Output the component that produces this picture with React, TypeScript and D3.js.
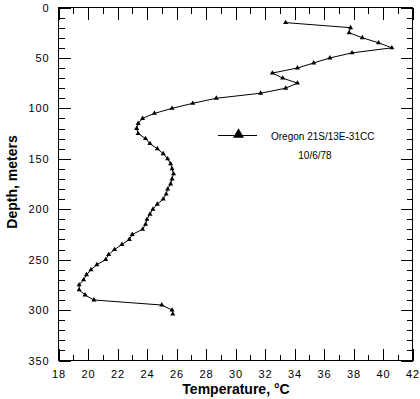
import { useEffect, useRef } from "react";
import * as d3 from "d3";

// depth (m) and temperature (°C) readings, Oregon 21S/13E-31CC, 10/6/78
const depths: number[] = [
  15, 20, 25, 30, 35, 40, 45, 50, 55, 60, 65, 70, 75, 80, 85, 90, 95, 100,
  105, 110, 115, 120, 125, 130, 135, 140, 145, 150, 155, 160, 165, 170, 175,
  180, 185, 190, 195, 200, 205, 210, 215, 220, 225, 230, 235, 240, 245, 250,
  255, 260, 265, 270, 275, 280, 285, 290, 295, 300, 304,
];
const temps: number[] = [
  33.4, 37.8, 37.7, 38.6, 39.7, 40.6, 37.9, 36.4, 35.3, 34.2, 32.5, 33.2,
  34.2, 33.4, 31.7, 28.7, 27.1, 25.7, 24.5, 23.7, 23.4, 23.3, 23.4, 23.9,
  24.2, 24.7, 25.1, 25.4, 25.6, 25.7, 25.8, 25.7, 25.6, 25.4, 25.3, 25.1,
  24.7, 24.4, 24.2, 24.0, 23.9, 23.7, 23.0, 22.8, 22.3, 21.8, 21.4, 21.2,
  20.6, 20.2, 19.9, 19.7, 19.4, 19.4, 19.8, 20.4, 25.0, 25.7, 25.75,
];
const xTicks: number[] = [18, 20, 22, 24, 26, 28, 30, 32, 34, 36, 38, 40, 42];
const yTicks: number[] = [0, 50, 100, 150, 200, 250, 300, 350];
const legendLines: string[] = ["Oregon 21S/13E-31CC", "10/6/78"];

const W = 420;
const H = 399;
const FONT = "'Liberation Sans', Arial, sans-serif";

export default function App() {
  const svgRef = useRef<SVGSVGElement>(null);

  useEffect(() => {
    document.body.style.margin = "0";
    const svgEl = svgRef.current;
    if (!svgEl) return;

    const margin = { top: 7, right: 8, bottom: 39, left: 58 };
    const innerW = W - margin.left - margin.right;
    const innerH = H - margin.top - margin.bottom;

    const svg = d3.select(svgEl);
    svg.selectAll("*").remove();

    const g = svg
      .append("g")
      .attr("transform", `translate(${margin.left + 0.5},${margin.top + 0.5})`);

    const x = d3.scaleLinear().domain([18, 42]).range([0, innerW]);
    const y = d3.scaleLinear().domain([0, 350]).range([0, innerH]);

    const minorX = d3.range(18, 43, 1).filter((v) => v % 2 !== 0);
    const minorY = d3.range(0, 351, 10).filter((v) => v % 50 !== 0);

    const styleAxis = (sel: d3.Selection<SVGGElement, unknown, null, undefined>) => {
      sel.selectAll(".domain").remove();
      sel.selectAll("line").attr("stroke", "#000").attr("shape-rendering", "crispEdges");
      sel
        .selectAll("text")
        .attr("fill", "#000")
        .attr("font-size", "11px")
        .attr("letter-spacing", "0.9px")
        .attr("font-family", FONT);
    };

    // bottom axis
    const bx = g
      .append("g")
      .attr("transform", `translate(0,${innerH})`)
      .call(d3.axisBottom(x).tickValues(xTicks).tickSizeInner(-12).tickSizeOuter(0).tickPadding(10));
    styleAxis(bx);
    const bxm = g
      .append("g")
      .attr("transform", `translate(0,${innerH})`)
      .call(d3.axisBottom(x).tickValues(minorX).tickSize(-6).tickFormat(() => ""));
    styleAxis(bxm);

    // top axis
    const tx = g
      .append("g")
      .call(d3.axisTop(x).tickValues(xTicks).tickSize(-12).tickFormat(() => ""));
    styleAxis(tx);
    const txm = g
      .append("g")
      .call(d3.axisTop(x).tickValues(minorX).tickSize(-6).tickFormat(() => ""));
    styleAxis(txm);

    // left axis
    const ly = g
      .append("g")
      .call(d3.axisLeft(y).tickValues(yTicks).tickSizeInner(-12).tickSizeOuter(0).tickPadding(9));
    styleAxis(ly);
    const lym = g
      .append("g")
      .call(d3.axisLeft(y).tickValues(minorY).tickSize(-6).tickFormat(() => ""));
    styleAxis(lym);

    // right axis
    const ry = g
      .append("g")
      .attr("transform", `translate(${innerW},0)`)
      .call(d3.axisRight(y).tickValues(yTicks).tickSize(-12).tickFormat(() => ""));
    styleAxis(ry);
    const rym = g
      .append("g")
      .attr("transform", `translate(${innerW},0)`)
      .call(d3.axisRight(y).tickValues(minorY).tickSize(-6).tickFormat(() => ""));
    styleAxis(rym);

    // frame
    g.append("rect")
      .attr("x", 0)
      .attr("y", 0)
      .attr("width", innerW)
      .attr("height", innerH)
      .attr("fill", "none")
      .attr("stroke", "#000")
      .attr("shape-rendering", "crispEdges");

    const points = depths.map((d, i) => ({ depth: d, temp: temps[i] }));

    const line = d3
      .line<{ depth: number; temp: number }>()
      .x((d) => x(d.temp))
      .y((d) => y(d.depth));

    g.append("path")
      .datum(points)
      .attr("d", line)
      .attr("fill", "none")
      .attr("stroke", "#000")
      .attr("stroke-width", 1);

    const tri = d3.symbol().type(d3.symbolTriangle);
    g.selectAll(".marker")
      .data(points)
      .enter()
      .append("path")
      .attr("class", "marker")
      .attr("transform", (d) => `translate(${x(d.temp)},${y(d.depth)})`)
      .attr("d", tri.size(11)())
      .attr("fill", "#000");

    // legend
    const lg = svg.append("g");
    lg.append("line")
      .attr("x1", 218)
      .attr("x2", 257)
      .attr("y1", 135.5)
      .attr("y2", 135.5)
      .attr("stroke", "#000");
    lg.append("path")
      .attr("transform", "translate(238.5,134.5)")
      .attr("d", tri.size(52)())
      .attr("fill", "#000");
    lg.append("text")
      .attr("x", 271)
      .attr("y", 139.5)
      .attr("font-size", "10px")
      .attr("font-family", FONT)
      .text(legendLines[0]);
    lg.append("text")
      .attr("x", 315)
      .attr("y", 158.5)
      .attr("text-anchor", "middle")
      .attr("font-size", "10px")
      .attr("font-family", FONT)
      .text(legendLines[1]);

    // axis titles
    svg
      .append("text")
      .attr("x", 236)
      .attr("y", 394)
      .attr("text-anchor", "middle")
      .attr("font-size", "14px")
      .attr("font-weight", "bold")
      .attr("font-family", FONT)
      .text("Temperature, °C");

    svg
      .append("text")
      .attr("transform", "translate(17,182) rotate(-90)")
      .attr("text-anchor", "middle")
      .attr("font-size", "14px")
      .attr("font-weight", "bold")
      .attr("font-family", FONT)
      .text("Depth, meters");
  }, []);

  return (
    <svg
      ref={svgRef}
      width={W}
      height={H}
      style={{ display: "block", background: "#fff" }}
    />
  );
}
